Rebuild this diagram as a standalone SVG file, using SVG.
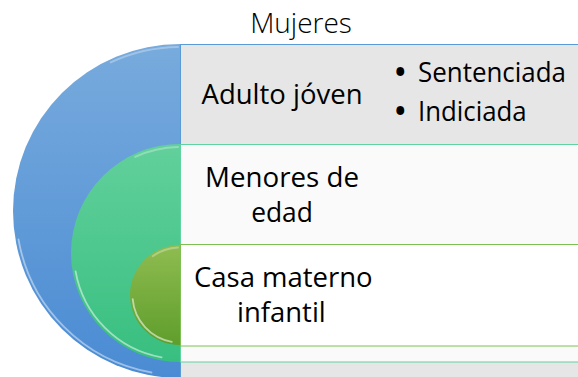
<svg xmlns="http://www.w3.org/2000/svg" width="578" height="377" viewBox="0 0 578 377">
  <style>
    .t { font-family: "Open Sans", "Liberation Sans", sans-serif; font-size: 27px; fill: #000; }
    .b { font-size: 28px; font-weight: bold; }
    .title { font-family: "Open Sans", "Liberation Sans", sans-serif; font-size: 28px; font-weight: 300; fill: #000; }
    .hl { fill: none; stroke: #ffffff; stroke-linecap: round; }
  </style>
  <defs>
    <linearGradient id="gBlue" x1="0" y1="0" x2="0" y2="1">
      <stop offset="0" stop-color="#78abdd"/>
      <stop offset="1" stop-color="#4a8bd3"/>
    </linearGradient>
    <linearGradient id="gGreen" x1="0" y1="0" x2="0" y2="1">
      <stop offset="0" stop-color="#62d09b"/>
      <stop offset="1" stop-color="#38bf80"/>
    </linearGradient>
    <linearGradient id="gOlive" x1="0" y1="0" x2="0" y2="1">
      <stop offset="0" stop-color="#8fbc50"/>
      <stop offset="1" stop-color="#5f9e2c"/>
    </linearGradient>
  </defs>

  <text class="title" x="301" y="33" text-anchor="middle">Mujeres</text>

  <g id="adulto">
    <rect x="180.5" y="44.5" width="400" height="340" fill="#e6e6e6" stroke="#5b9bd5" stroke-width="1"/>
    <path d="M180,44 A167,167 0 0 0 180,378 Z" fill="url(#gBlue)"/>
    <path class="hl" d="M18.5,239.5 A164,164 0 0 0 151.5,372.5" stroke-width="1.8" stroke-opacity="0.45"/>
    <path class="hl" d="M110.7,62.4 A164,164 0 0 1 178,47" stroke-width="2" stroke-opacity="0.3"/>
    <text class="t" x="282" y="103.5" text-anchor="middle" textLength="161" lengthAdjust="spacingAndGlyphs">Adulto jóven</text>
    <text class="t" y="82"><tspan class="b" x="395" y="81.5">•</tspan><tspan x="418" y="82" textLength="148" lengthAdjust="spacingAndGlyphs">Sentenciada</tspan><tspan class="b" x="395" y="121">•</tspan><tspan x="418" y="121" textLength="108.7" lengthAdjust="spacingAndGlyphs">Indiciada</tspan></text>
  </g>

  <g id="menores">
    <rect x="180.5" y="144.5" width="400" height="217.5" fill="#fafafa" stroke="#5fd3a0" stroke-width="1"/>
    <path d="M180,144 A109,109 0 0 0 180,362 Z" fill="url(#gGreen)"/>
    <path class="hl" d="M75.6,271.4 A106,106 0 0 0 161.6,357.4" stroke-width="1.8" stroke-opacity="0.5"/>
    <path class="hl" d="M135.2,156.9 A106,106 0 0 1 178,147" stroke-width="2" stroke-opacity="0.3"/>
    <text class="t" x="282" y="186.7" text-anchor="middle" textLength="154" lengthAdjust="spacingAndGlyphs">Menores de</text>
    <text class="t" x="282" y="221.7" text-anchor="middle" textLength="61.7" lengthAdjust="spacingAndGlyphs">edad</text>
  </g>

  <g id="casa">
    <rect x="180.5" y="244.5" width="400" height="101.5" fill="#ffffff" stroke="#7dc052" stroke-width="1"/>
    <path d="M180,245 A50,50 0 0 0 180,345 Z" fill="url(#gOlive)"/>
    <path class="hl" d="M132.7,299.1 A47.5,47.5 0 0 0 171.8,341.8" stroke-width="1.8" stroke-opacity="0.55"/>
    <path class="hl" d="M152.8,256.1 A47.5,47.5 0 0 1 178,247.5" stroke-width="2" stroke-opacity="0.3"/>
    <text class="t" x="283.3" y="287.3" text-anchor="middle" textLength="178.7" lengthAdjust="spacingAndGlyphs">Casa materno</text>
    <text class="t" x="281.4" y="321.7" text-anchor="middle" textLength="88.7" lengthAdjust="spacingAndGlyphs">infantil</text>
  </g>
</svg>
